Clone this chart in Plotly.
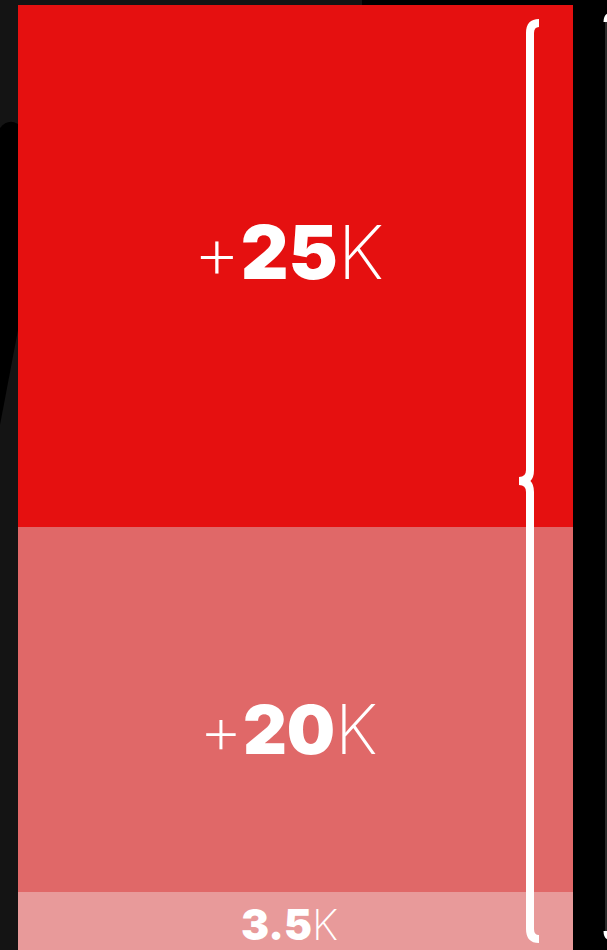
import plotly.graph_objects as go

# ---- data ----
segment_labels = ["3.5", "20", "25"]          # values printed on the segments (K)
segment_prefix = ["", "+", "+"]
segment_lengths = [3.5, 20, 28.6]             # drawn lengths (K units)
segment_colors = ["#E89A9A", "#E06868", "#E51010"]

W, H = 607, 950
# axis ranges (layout)
X0, X1 = -0.5324, 0.5613
Y0, Y1 = 0.32, 0.32 + H / 18.25

def px(x, y):
    """convert pixel position to data coordinates"""
    return X0 + x / W * (X1 - X0), Y1 - y / H * (Y1 - Y0)

fig = go.Figure()
base = 0
for i, (L, c) in enumerate(zip(segment_lengths, segment_colors)):
    fig.add_trace(go.Bar(x=[0], y=[L], base=[base], width=1, marker=dict(color=c, line=dict(width=0)),
                         showlegend=False, hoverinfo="skip"))
    base += L

# labels
yshifts = [-4, -20, 14]
sizes = [42, 68, 74]
xs = [-0.01, -0.012, -0.012]
base = 0
for i, L in enumerate(segment_lengths):
    lo = max(base, Y0)
    hi = min(base + L, Y1)
    mid = (lo + hi) / 2
    txt = f"{segment_prefix[i]}<span style='font-weight:900'>{segment_labels[i]}</span>K"
    fig.add_annotation(x=xs[i], y=mid, xref="x", yref="y", text=txt, showarrow=False,
                       yshift=yshifts[i], font=dict(family="Inter", size=sizes[i], color="white", weight=200))
    base += L

def path(points):
    s = ""
    for cmd, pts in points:
        s += cmd + " " + " ".join("%.5f,%.5f" % px(*p) for p in pts) + " "
    return s

shapes = []
# black background pieces
shapes.append(dict(type="rect", xref="paper", yref="paper", x0=573 / W, x1=1, y0=0, y1=1,
                   fillcolor="#000000", line=dict(width=0), layer="below"))
shapes.append(dict(type="rect", xref="paper", yref="paper", x0=362 / W, x1=1, y0=1 - 5 / H, y1=1,
                   fillcolor="#000000", line=dict(width=0), layer="below"))
blob = path([("M", [(0, 128)]), ("Q", [(8, 118), (18, 124)]), ("L", [(18, 330)]), ("L", [(0, 425)])]) + "Z"
shapes.append(dict(type="path", xref="x", yref="y", path=blob, fillcolor="#000000", line=dict(width=0), layer="below"))

# white brace
brace = path([("M", [(539, 23)]), ("Q", [(530, 23), (530, 33)]), ("L", [(530, 470)]),
              ("Q", [(530, 481), (519, 481)]), ("Q", [(530, 481), (530, 492)]), ("L", [(530, 929)]),
              ("Q", [(530, 939), (539, 939)])])
shapes.append(dict(type="path", xref="x", yref="y", path=brace, line=dict(color="white", width=8)))

# second brace at right edge
brace2 = path([("M", [(606, 22)]), ("L", [(606, 932)])])
shapes.append(dict(type="path", xref="x", yref="y", path=brace2, line=dict(color="#555555", width=1)))
hook1 = path([("M", [(612, 15)]), ("Q", [(606, 15), (606, 22)])])
hook2 = path([("M", [(612, 938)]), ("Q", [(606, 938), (606, 931)])])
for hk in (hook1, hook2):
    shapes.append(dict(type="path", xref="x", yref="y", path=hk, line=dict(color="white", width=5)))

fig.update_layout(
    width=W, height=H, margin=dict(l=0, r=0, t=0, b=0),
    paper_bgcolor="#141414", plot_bgcolor="rgba(0,0,0,0)",
    barmode="overlay", bargap=0,
    xaxis=dict(range=[X0, X1], visible=False, fixedrange=True),
    yaxis=dict(range=[Y0, Y1], visible=False, fixedrange=True),
    shapes=shapes,
)
fig.write_html("out.html", config={"displayModeBar": False},
               post_script="document.body.style.margin='0';document.body.style.background='#141414';")
